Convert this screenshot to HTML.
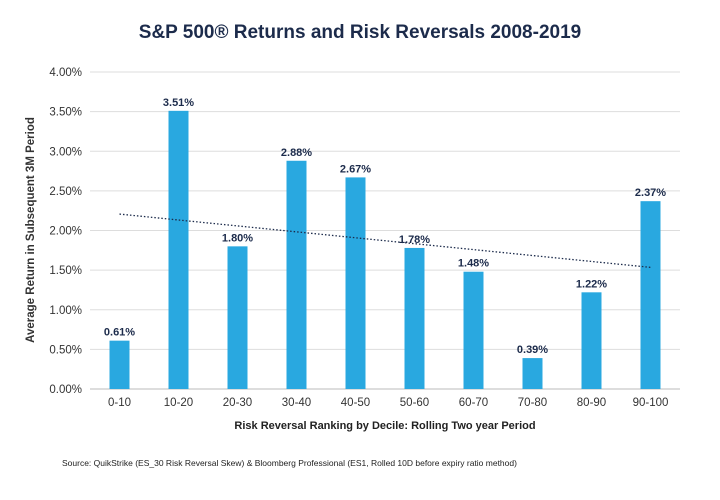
<!DOCTYPE html>
<html><head><meta charset="utf-8"><style>
body{margin:0;background:#fff;}
svg{display:block;font-family:"Liberation Sans",sans-serif;}
</style></head><body>
<svg id="chart" width="720" height="500" viewBox="0 0 720 500">
<text x="360" y="38" text-anchor="middle" font-size="19" font-weight="bold" fill="#1c2b4b">S&amp;P 500® Returns and Risk Reversals 2008-2019</text>
<g id="grid"></g><g id="bars"></g><g id="labels"></g><g id="trend"></g>
<text transform="translate(34,230) rotate(-90)" text-anchor="middle" font-size="11.5" font-weight="bold" fill="#333">Average Return in Subsequent 3M Period</text>
<text x="385" y="429" text-anchor="middle" font-size="11" font-weight="bold" fill="#222">Risk Reversal Ranking by Decile: Rolling Two year Period</text>
<text x="62" y="466" font-size="8.5" fill="#222">Source: QuikStrike (ES_30 Risk Reversal Skew) &amp; Bloomberg Professional (ES1, Rolled 10D before expiry ratio method)</text>
</svg>
<script>
const categories=["0-10","10-20","20-30","30-40","40-50","50-60","60-70","70-80","80-90","90-100"];
const values=[0.61,3.51,1.80,2.88,2.67,1.78,1.48,0.39,1.22,2.37];
const yTicks=[0,0.5,1,1.5,2,2.5,3,3.5,4];
const ns="http://www.w3.org/2000/svg";
const x0=90,x1=680,yTop=72,yBot=389,yMax=4;
const step=(x1-x0)/categories.length;
const X=i=>x0+step*(i+0.5);
const Y=v=>yBot-(v/yMax)*(yBot-yTop);
function mk(t,a,p){const e=document.createElementNS(ns,t);for(const k in a)e.setAttribute(k,a[k]);p.appendChild(e);return e;}
const grid=document.getElementById('grid'),bars=document.getElementById('bars'),labels=document.getElementById('labels'),trend=document.getElementById('trend');
yTicks.forEach(t=>{
 const l=mk('line',{x1:x0,x2:x1,y1:Y(t),y2:Y(t),stroke:t===0?'#bbb':'#ddd','stroke-width':1},grid);
 
 
 const tx=mk('text',{x:82,y:Y(t)+4,'text-anchor':'end','font-size':11.5,fill:'#333'},grid);
 tx.textContent=t.toFixed(2)+'%';
 
 
});
const bw=20;
values.forEach((v,i)=>{
 const r=mk('rect',{x:X(i)-bw/2,y:Y(v),width:bw,height:Y(0)-Y(v),fill:'#29a8e0'},bars);
 
 
 const t=mk('text',{x:X(i),y:Y(v)-5,'text-anchor':'middle','font-size':11,'font-weight':'bold',fill:'#1c2b4b'},labels);
 t.textContent=v.toFixed(2)+'%';
 
 
 const c=mk('text',{x:X(i),y:406,'text-anchor':'middle','font-size':11.5,fill:'#333'},labels);
 c.textContent=categories[i];
 
 
});
const n=values.length,mx=(n-1)/2,my=values.reduce((a,b)=>a+b,0)/n;
let sxy=0,sxx=0;values.forEach((v,i)=>{sxy+=(i-mx)*(v-my);sxx+=(i-mx)*(i-mx);});
const slope=sxy/sxx,ic=my-slope*mx;
const tl=mk('line',{x1:X(0),y1:Y(ic),x2:X(n-1),y2:Y(ic+slope*(n-1)),stroke:'#1c2b4b','stroke-width':1.3,'stroke-dasharray':'1.5,2'},trend);


</script>
</body></html>
